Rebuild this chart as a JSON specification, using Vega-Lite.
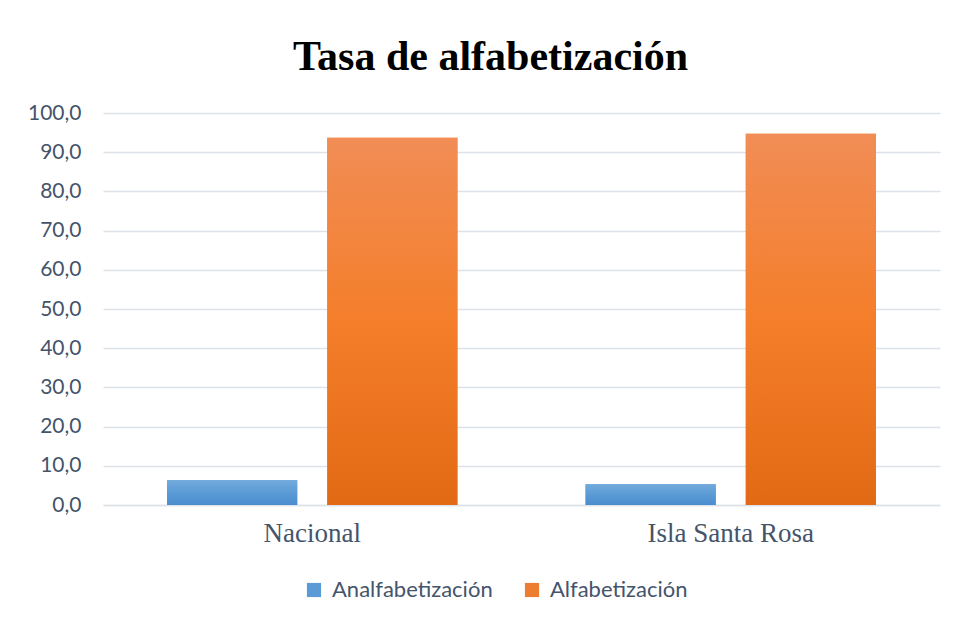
{
  "$schema": "https://vega.github.io/schema/vega-lite/v6.json",
  "width": 837,
  "height": 392,
  "autosize": "none",
  "padding": {"left": 103, "top": 113, "right": 16, "bottom": 118},
  "background": "white",
  "title": {"text": "Tasa de alfabetización", "font": "Liberation Serif", "fontSize": 42, "fontWeight": "bold", "color": "black", "anchor": "middle", "dx": -31, "offset": 23},
  "data": {"values": [
    {"lugar": "Nacional", "serie": "Analfabetización", "valor": 6.3},
    {"lugar": "Nacional", "serie": "Alfabetización", "valor": 93.7},
    {"lugar": "Isla Santa Rosa", "serie": "Analfabetización", "valor": 5.3},
    {"lugar": "Isla Santa Rosa", "serie": "Alfabetización", "valor": 94.7}
  ]},
  "encoding": {
    "x": {"field": "lugar", "type": "nominal", "sort": ["Nacional", "Isla Santa Rosa"],
      "scale": {"paddingInner": 0, "paddingOuter": 0},
      "axis": {"title": null, "labelAngle": 0, "domainColor": "#DDE1E8", "domainWidth": 1.5, "ticks": false, "labelFont": "Liberation Serif", "labelFontSize": 27, "labelColor": "#44546A", "labelPadding": 15}},
    "xOffset": {"field": "serie", "sort": ["Analfabetización", "Alfabetización"], "scale": {"paddingInner": 0.1875, "paddingOuter": 0.4}},
    "y": {"field": "valor", "type": "quantitative", "scale": {"domain": [0, 100]},
      "axis": {"title": null, "values": [0, 10, 20, 30, 40, 50, 60, 70, 80, 90, 100], "labelExpr": "replace(format(datum.value, '.1f'), '.', ',')", "domain": false, "ticks": false, "labelPadding": 22, "labelFont": "Lato", "labelFontSize": 21, "labelColor": "#44546A", "gridColor": "#DDE1E8", "gridWidth": 1.5}}
  },
  "layer": [
    {"mark": {"type": "bar"},
      "encoding": {"color": {"field": "serie", "type": "nominal", "sort": ["Analfabetización", "Alfabetización"],
        "scale": {"domain": ["Analfabetización", "Alfabetización"], "range": ["#5B9BD5", "#ED7D31"]},
        "legend": {"title": null, "orient": "none", "legendX": 200, "legendY": 466, "direction": "horizontal", "symbolType": "square", "symbolSize": 200, "symbolStrokeWidth": 0, "symbolOpacity": 1, "labelFont": "Lato", "labelFontSize": 22, "labelLimit": 400, "labelColor": "#44546A", "columnPadding": 28, "labelOffset": 7}}}},
    {"mark": {"type": "bar"},
      "encoding": {"fill": {
        "condition": {"test": "datum.serie === 'Analfabetización'", "value": {"gradient": "linear", "x1": 0, "y1": 0, "x2": 0, "y2": 1, "stops": [{"offset": 0, "color": "#72AADD"}, {"offset": 0.5, "color": "#5B9BD5"}, {"offset": 1, "color": "#4A8CCF"}]}},
        "value": {"gradient": "linear", "x1": 0, "y1": 0, "x2": 0, "y2": 1, "stops": [{"offset": 0, "color": "#F18D56"}, {"offset": 0.5, "color": "#F47E2A"}, {"offset": 1, "color": "#E36A15"}]}}}}
  ],
  "config": {"view": {"stroke": null}}
}
